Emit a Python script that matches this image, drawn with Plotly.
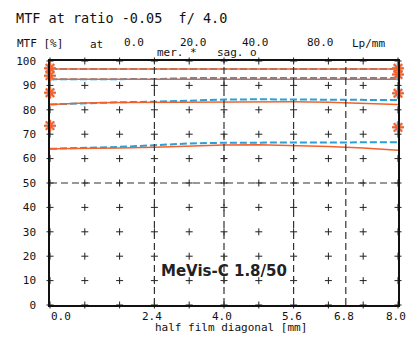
import plotly.graph_objects as go

# field positions along the half film diagonal [mm]
field = [0.0, 0.8, 1.6, 2.4, 3.2, 4.0, 4.8, 5.6, 6.4, 7.2, 8.0]

# MTF [%] per spatial frequency, meridional (mer) and sagittal (sag)
mer_a = [96.7, 96.7, 96.7, 96.7, 96.7, 96.7, 96.7, 96.7, 96.7, 96.7, 96.7]
sag_a = [96.7, 96.7, 96.7, 96.7, 96.7, 96.7, 96.7, 96.7, 96.7, 96.7, 96.7]
mer_b = [92.5, 92.5, 92.5, 92.5, 92.5, 92.5, 92.5, 92.5, 92.5, 92.5, 92.5]
sag_b = [92.5, 92.5, 92.5, 92.6, 93.0, 93.0, 93.0, 93.0, 93.0, 93.0, 93.0]
mer_c = [82.2, 82.8, 83.0, 83.1, 83.2, 83.3, 83.3, 83.3, 83.1, 82.8, 82.2]
sag_c = [82.2, 82.8, 83.1, 83.3, 83.9, 84.2, 84.3, 84.3, 84.2, 84.1, 84.0]
mer_d = [64.0, 64.1, 64.3, 64.7, 65.2, 65.6, 65.7, 65.5, 65.0, 64.3, 63.4]
sag_d = [64.0, 64.3, 64.8, 65.5, 66.2, 66.5, 66.6, 66.6, 66.6, 66.7, 66.7]

# on-edge marker values
edge_left = [97.0, 94.0, 87.0, 73.5]
edge_right = [97.0, 94.5, 86.8, 72.8]

# grid crosses and ticks
grid_x = [0.0, 0.8, 1.6, 2.4, 3.2, 4.0, 4.8, 5.6, 6.4, 7.2, 8.0]
grid_y = [0, 10, 20, 30, 40, 50, 60, 70, 80, 90, 100]
x_tick_vals = [0.0, 2.4, 4.0, 5.6, 6.8, 8.0]
x_tick_text = ["0.0", "2.4", "4.0", "5.6", "6.8", "8.0"]
dash_x = [2.4, 4.0, 5.6, 6.8]
dash_y = [50]

ORANGE = "#f5602a"
BLUE = "#2b9fd8"
MONO = "DejaVu Sans Mono"

# plot area in pixels
L, R, T, B = 50, 398, 61, 305

fig = go.Figure()

# grid "+" marks
gx = [x for x in grid_x for _ in grid_y]
gy = [y for _ in grid_x for y in grid_y]
fig.add_trace(
    go.Scatter(
        x=gx, y=gy, mode="markers", cliponaxis=False, hoverinfo="skip",
        marker=dict(symbol="cross-thin", size=5, color="#222",
                    line=dict(color="#222", width=1)),
    )
)

pairs = [(sag_a, mer_a), (sag_b, mer_b), (sag_c, mer_c), (sag_d, mer_d)]
for sag, _ in pairs:
    fig.add_trace(
        go.Scatter(x=field, y=sag, mode="lines",
                   line=dict(color=BLUE, width=2, dash="7px,3px"))
    )
for _, mer in pairs:
    fig.add_trace(
        go.Scatter(x=field, y=mer, mode="lines",
                   line=dict(color=ORANGE, width=1.5))
    )

edge_x = [0.0] * len(edge_left) + [8.0] * len(edge_right)
edge_y = edge_left + edge_right
fig.add_trace(
    go.Scatter(
        x=edge_x, y=edge_y, mode="markers", cliponaxis=False,
        marker=dict(symbol="circle", size=11, color="rgba(150,200,235,0.55)"),
    )
)
fig.add_trace(
    go.Scatter(
        x=edge_x, y=edge_y, mode="markers", cliponaxis=False,
        marker=dict(symbol="asterisk-open", size=10, color=ORANGE,
                    line=dict(color=ORANGE, width=2)),
    )
)

for xv in dash_x:
    fig.add_shape(type="line", x0=xv, x1=xv, y0=0, y1=100,
                  line=dict(color="#333", width=1.2, dash="7px,4px"))
for yv in dash_y:
    fig.add_shape(type="line", x0=0, x1=8, y0=yv, y1=yv,
                  line=dict(color="#333", width=1.2, dash="7px,4px"))

texts = [
    (14, 18, "MTF at ratio -0.05  f/ 4.0", 13.5),
    (15, 43, "MTF [%]", 11),
    (88, 45, "at", 11),
    (122, 42, "0.0", 11),
    (178, 42, "20.0", 11),
    (240, 42, "40.0", 11),
    (305, 42, "80.0", 11),
    (350, 43, "Lp/mm", 11),
    (155, 52, "mer. *", 11),
    (215, 52, "sag. o", 11),
    (153, 327, "half film diagonal [mm]", 11),
]
for px, py, t, s in texts:
    fig.add_annotation(
        x=(px - L) / (R - L), y=(B - py) / (B - T), xref="paper", yref="paper",
        xanchor="left", yanchor="middle", text=t, showarrow=False,
        font=dict(family=MONO, size=s, color="#111"),
    )

# x tick labels (first one sits right of its tick, as in the original)
for xv, t in zip(x_tick_vals, x_tick_text):
    fig.add_annotation(
        x=xv, y=0, xref="x", yref="y", text=t, showarrow=False,
        xanchor="left" if xv == 0 else "center", yanchor="middle",
        xshift=-1 if xv == 0 else -2, yshift=-11,
        font=dict(family=MONO, size=11, color="#111"),
    )

fig.add_annotation(
    x=4.0, y=14, xref="x", yref="y", text="<b>MeVis-C 1.8/50</b>",
    showarrow=False, font=dict(family="DejaVu Sans", size=15, color="#222"),
)

fig.update_xaxes(
    range=[0, 8], showgrid=False, zeroline=False, automargin=False,
    showline=True, mirror=True, linecolor="#111", linewidth=1.5,
    showticklabels=False, ticks="",
)
fig.update_yaxes(
    range=[0, 100], showgrid=False, zeroline=False, automargin=False,
    showline=True, mirror=True, linecolor="#111", linewidth=1.5,
    tickvals=grid_y, ticks="", ticklabelstandoff=10,
    tickfont=dict(family=MONO, size=11, color="#111"),
)
fig.update_layout(
    width=406, height=342, showlegend=False,
    margin=dict(l=L, r=406 - R, t=T, b=342 - B),
    plot_bgcolor="white", paper_bgcolor="white",
)

fig.write_html(
    "out.html",
    config={"displayModeBar": False},
    post_script="document.body.style.margin='0';",
)
